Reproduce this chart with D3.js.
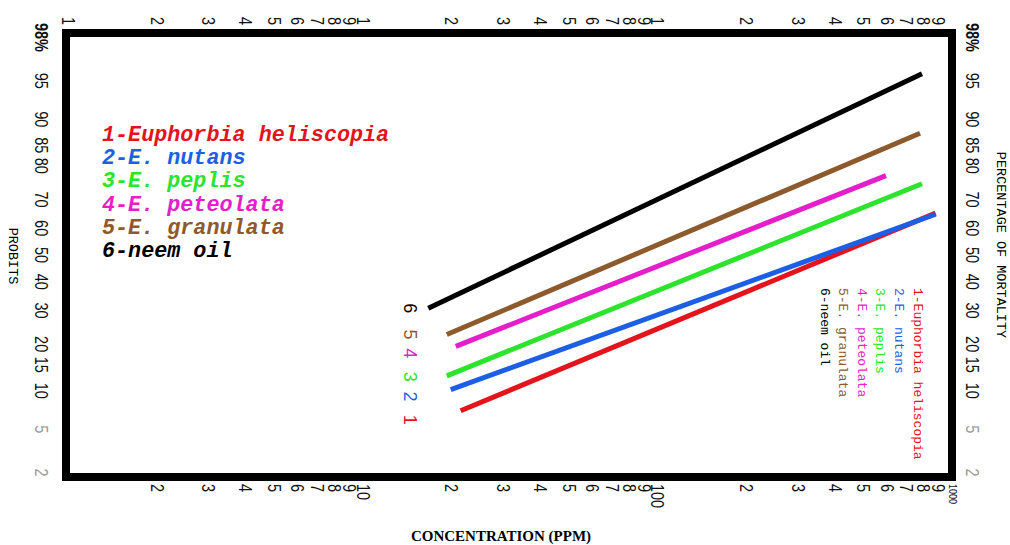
<!DOCTYPE html>
<html>
<head>
<meta charset="utf-8">
<script src="https://cdn.jsdelivr.net/npm/d3@7"></script>
<style>
  body { margin: 0; background: #fff; }
  svg { display: block; }
</style>
</head>
<body>
<div class="container"></div>
<script>
// series (concentration ppm, % mortality at each line end)
const seriesNames = ["1-Euphorbia heliscopia", "2-E. nutans", "3-E. peplis", "4-E. peteolata", "5-E. granulata", "6-neem oil"]
const seriesIds = ["1", "2", "3", "4", "5", "6"]
const startConc = [21.5, 19.9, 19.3, 20.7, 19.3, 16.7]
const startPct = [7.0, 10.1, 12.6, 19.3, 22.5, 30.6]
const endConc = [880, 880, 791, 597, 779, 791]
const endPct = [65.2, 64.8, 74.8, 77.2, 87.4, 95.6]

// axis ticks
const topTicks = [1, 2, 3, 4, 5, 6, 7, 8, 9, 10, 20, 30, 40, 50, 60, 70, 80, 90, 100, 200, 300, 400, 500, 600, 700, 800, 900]
const bottomTicks = [2, 3, 4, 5, 6, 7, 8, 9, 10, 20, 30, 40, 50, 60, 70, 80, 90, 100, 200, 300, 400, 500, 600, 700, 800, 900, 1000]
const pctTicks = [98, 95, 90, 85, 80, 70, 60, 50, 40, 30, 20, 15, 10, 5, 2]

const colors = ["#e3141c", "#1c5fe4", "#2de32d", "#e41ec9", "#8c5a2c", "#000000"]

// inverse normal cdf (Acklam)
const probit = (p) => {
    const a = [-39.69683028665376, 220.9460984245205, -275.9285104469687, 138.3577518672690, -30.66479806614716, 2.506628277459239]
    const b = [-54.47609879822406, 161.5858368580409, -155.6989798598866, 66.80131188771972, -13.28068155288572]
    const c = [-0.007784894002430293, -0.3223964580411365, -2.400758277161838, -2.549732539343734, 4.374664141464968, 2.938163982698783]
    const d = [0.007784695709041462, 0.3224671290700398, 2.445134137142996, 3.754408661907416]
    const pl = 0.02425
    if (p < pl) {
        const q = Math.sqrt(-2 * Math.log(p))
        return (((((c[0] * q + c[1]) * q + c[2]) * q + c[3]) * q + c[4]) * q + c[5]) / ((((d[0] * q + d[1]) * q + d[2]) * q + d[3]) * q + 1)
    }
    if (p <= 1 - pl) {
        const q = p - 0.5, r = q * q
        return (((((a[0] * r + a[1]) * r + a[2]) * r + a[3]) * r + a[4]) * r + a[5]) * q / (((((b[0] * r + b[1]) * r + b[2]) * r + b[3]) * r + b[4]) * r + 1)
    }
    const q = Math.sqrt(-2 * Math.log(1 - p))
    return -(((((c[0] * q + c[1]) * q + c[2]) * q + c[3]) * q + c[4]) * q + c[5]) / ((((d[0] * q + d[1]) * q + d[2]) * q + d[3]) * q + 1)
}

const w = 1010
const h = 545

const svg = d3.select(".container")
    .append("svg")
    .attr("width", w)
    .attr("height", h)

svg.append("rect").attr("width", w).attr("height", h).attr("fill", "#fff")

const x = d3.scaleLog().domain([1, 1000]).range([68, 952])
const yz = d3.scaleLinear().domain([probit(0.02), probit(0.98)]).range([472, 37])
const y = (pct) => yz(probit(pct / 100))

// frame
svg.append("rect")
    .attr("x", 66)
    .attr("y", 33)
    .attr("width", 886)
    .attr("height", 444)
    .attr("fill", "none")
    .attr("stroke", "#000")
    .attr("stroke-width", 8)

const tickFont = (g) => g
    .attr("font-family", "'Liberation Sans', Arial, sans-serif")
    .attr("font-size", 14.5)
    .call(g => g.select(".domain").remove())
    .call(g => g.selectAll("line").remove())

// top axis
svg.append("g")
    .attr("transform", "translate(0,21)")
    .call(d3.axisTop(x).tickValues(topTicks).tickSize(0).tickFormat(d => String(d).charAt(0)))
    .call(tickFont)
    .selectAll("text")
    .attr("x", 0).attr("y", 0).attr("dy", null)
    .attr("transform", "rotate(90) scale(1,1.25)")
    .attr("text-anchor", "middle")
    .attr("dominant-baseline", "central")
    .attr("fill", "#111")

// bottom axis
svg.append("g")
    .attr("transform", "translate(0,484)")
    .call(d3.axisBottom(x).tickValues(bottomTicks).tickSize(0)
        .tickFormat(d => [10, 100, 1000].includes(d) ? String(d) : String(d).charAt(0)))
    .call(tickFont)
    .selectAll("text")
    .attr("x", 0).attr("y", 0).attr("dy", null)
    .attr("transform", "rotate(90) scale(1,1.25)")
    .attr("text-anchor", "start")
    .attr("dominant-baseline", "central")
    .attr("font-size", d => d === 1000 ? 9 : 14.5)
    .attr("fill", "#111")

// probit axes left and right
const pctAxis = (xpos) => svg.append("g")
    .attr("transform", `translate(${xpos},0)`)
    .call(d3.axisLeft(yz).tickValues(pctTicks.map(p => probit(p / 100))).tickSize(0)
        .tickFormat((d, i) => pctTicks[i] === 98 ? "98%" : String(pctTicks[i])))
    .call(tickFont)
    .selectAll("text")
    .attr("x", 0).attr("y", 0).attr("dy", null)
    .attr("transform", "rotate(90) scale(1,1.25)")
    .attr("text-anchor", "middle")
    .attr("dominant-baseline", "central")
    .attr("fill", (d, i) => pctTicks[i] <= 5 ? "#9a9a9a" : "#111")
    .attr("font-weight", (d, i) => pctTicks[i] === 98 ? "bold" : null)

pctAxis(42)
pctAxis(973)

// axis titles
svg.append("text")
    .attr("transform", "translate(12,256) rotate(90)")
    .attr("text-anchor", "middle")
    .attr("dominant-baseline", "central")
    .attr("font-family", "'Liberation Mono', 'Courier New', monospace")
    .attr("font-size", 13.5)
    .text("PROBITS")

svg.append("text")
    .attr("transform", "translate(1000,245) rotate(90)")
    .attr("text-anchor", "middle")
    .attr("dominant-baseline", "central")
    .attr("font-family", "'Liberation Mono', 'Courier New', monospace")
    .attr("font-size", 13.5)
    .text("PERCENTAGE OF MORTALITY")

svg.append("text")
    .attr("x", 501)
    .attr("y", 541)
    .attr("text-anchor", "middle")
    .attr("font-family", "'Liberation Serif', 'Times New Roman', serif")
    .attr("font-weight", "bold")
    .attr("font-size", 15)
    .text("CONCENTRATION (PPM)")

// lines
const idx = d3.range(seriesNames.length)
svg.selectAll(".probit-line")
    .data(idx)
    .enter()
    .append("line")
    .attr("class", "probit-line")
    .attr("x1", i => x(startConc[i]))
    .attr("y1", i => y(startPct[i]))
    .attr("x2", i => x(endConc[i]))
    .attr("y2", i => y(endPct[i]))
    .attr("stroke", i => colors[i])
    .attr("stroke-width", 5)

// numbers next to line starts
svg.selectAll(".line-id")
    .data(idx)
    .enter()
    .append("text")
    .attr("class", "line-id")
    .attr("transform", i => `translate(410,${y(startPct[i]) + [9, 7, 1, 7, 0, 0][i]}) rotate(90)`)
    .attr("text-anchor", "middle")
    .attr("dominant-baseline", "central")
    .attr("font-family", "'Liberation Sans', Arial, sans-serif")
    .attr("font-size", 18)
    .attr("fill", i => colors[i])
    .text(i => seriesIds[i])

// legend, upper left
const legend = svg.append("g")
    .attr("font-family", "'Liberation Mono', 'Courier New', monospace")
    .attr("font-weight", "bold")
    .attr("font-style", "italic")
    .attr("font-size", 21.75)

legend.selectAll("text")
    .data(idx)
    .enter()
    .append("text")
    .attr("x", 102)
    .attr("y", i => 141 + i * 23.2)
    .attr("fill", i => colors[i])
    .text(i => seriesNames[i])

// legend, rotated inside the frame
const legend2 = svg.append("g")
    .attr("font-family", "'Liberation Mono', 'Courier New', monospace")
    .attr("font-size", 13)

legend2.selectAll("text")
    .data(idx)
    .enter()
    .append("text")
    .attr("transform", i => `translate(${917 - i * 18.6},288) rotate(90)`)
    .attr("dominant-baseline", "central")
    .attr("fill", i => colors[i])
    .text(i => seriesNames[i])
</script>
</body>
</html>
